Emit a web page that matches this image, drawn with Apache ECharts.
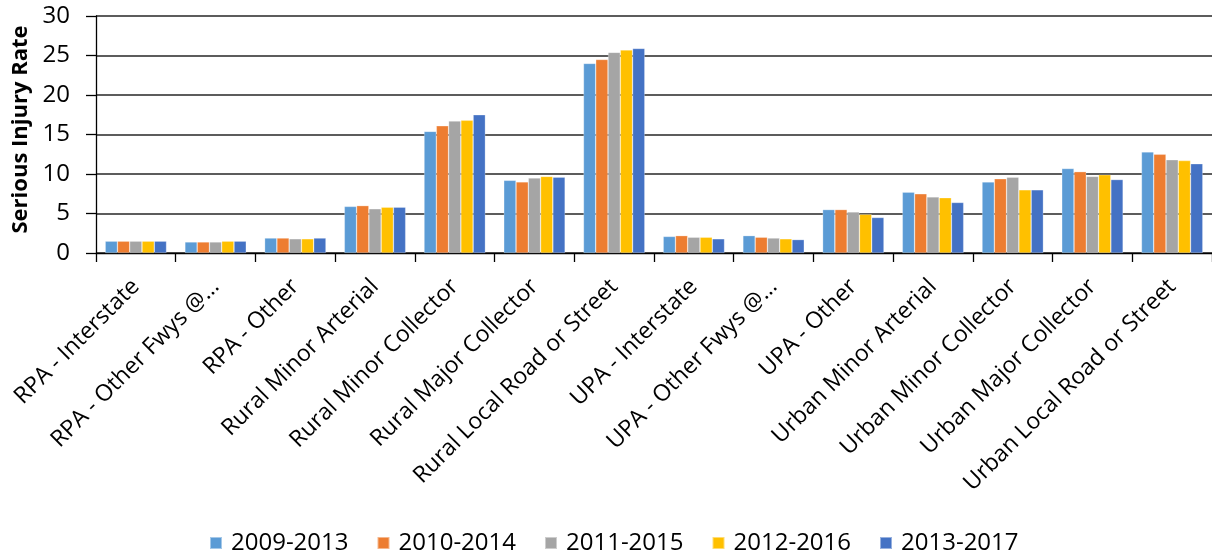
<!DOCTYPE html>
<html>
<head>
<meta charset="utf-8">
<script src="https://cdn.jsdelivr.net/npm/echarts@6/dist/echarts.min.js"></script>
<style>
  html, body { margin: 0; padding: 0; background: #fff; }
  #chart { width: 1212px; height: 557px; }
</style>
</head>
<body>
<div id="chart"></div>
<script>
// 类别
var categories = [
    'RPA - Interstate', 'RPA - Other Fwys @…', 'RPA - Other', 'Rural Minor Arterial',
    'Rural Minor Collector', 'Rural Major Collector', 'Rural Local Road or Street',
    'UPA - Interstate', 'UPA - Other Fwys @…', 'UPA - Other', 'Urban Minor Arterial',
    'Urban Minor Collector', 'Urban Major Collector', 'Urban Local Road or Street'
];

// 各时间段数值
var s2009_2013 = [1.5, 1.4, 1.9, 5.9, 15.4, 9.2, 24.0, 2.1, 2.2, 5.5, 7.7, 9.0, 10.7, 12.8];
var s2010_2014 = [1.5, 1.4, 1.9, 6.0, 16.1, 9.0, 24.5, 2.2, 2.0, 5.5, 7.5, 9.4, 10.3, 12.5];
var s2011_2015 = [1.5, 1.4, 1.8, 5.6, 16.7, 9.5, 25.4, 2.0, 1.9, 5.2, 7.1, 9.6, 9.7, 11.8];
var s2012_2016 = [1.5, 1.5, 1.8, 5.8, 16.8, 9.7, 25.7, 2.0, 1.8, 4.9, 7.0, 8.0, 9.9, 11.7];
var s2013_2017 = [1.5, 1.5, 1.9, 5.8, 17.5, 9.6, 25.9, 1.8, 1.7, 4.5, 6.4, 8.0, 9.3, 11.3];

var seriesNames = ['2009-2013', '2010-2014', '2011-2015', '2012-2016', '2013-2017'];
var seriesValues = [s2009_2013, s2010_2014, s2011_2015, s2012_2016, s2013_2017];
var colors = ['#5B9BD5', '#ED7D31', '#A5A5A5', '#FFC000', '#4472C4'];

var yTicks = { min: 0, max: 30, interval: 5 };

var font = 'Open Sans';

var myChart = echarts.init(document.getElementById('chart'));

var series = seriesNames.map(function(name, i) {
    return {
        name: name,
        type: 'bar',
        data: seriesValues[i],
        barGap: '0%',
        barCategoryGap: '23%',
        itemStyle: { color: colors[i], borderColor: 'rgba(255,255,255,0.45)', borderWidth: 0.6 }
    };
});

var option = {
    animation: false,
    color: colors,
    grid: { left: 96, top: 16, right: -9, bottom: 304 },
    legend: {
        data: seriesNames,
        left: 204,
        top: 526,
        itemWidth: 12,
        itemHeight: 12,
        itemGap: 28,
        icon: 'rect',
        textStyle: { fontFamily: font, fontSize: 24, color: '#000', padding: [0, 0, 0, 4] }
    },
    xAxis: {
        type: 'category',
        data: categories,
        axisLine: { show: true, lineStyle: { color: '#000', width: 1.3 } },
        axisTick: { show: true, alignWithLabel: false, length: 9, lineStyle: { color: '#000', width: 1.3 } },
        axisLabel: {
            rotate: 45,
            interval: 0,
            margin: 30,
            fontFamily: font,
            fontSize: 23,
            color: '#000'
        }
    },
    yAxis: {
        type: 'value',
        min: yTicks.min,
        max: yTicks.max,
        interval: yTicks.interval,
        name: 'Serious Injury Rate',
        nameLocation: 'middle',
        nameRotate: 90,
        nameGap: 64,
        nameTextStyle: { fontFamily: font, fontSize: 22, fontWeight: 'bold', color: '#000', padding: [0, 0, 0, 10] },
        axisLine: { show: true, lineStyle: { color: '#000', width: 1.3 } },
        axisTick: { show: true, length: 10, lineStyle: { color: '#000', width: 1.3 } },
        axisLabel: { margin: 26, fontFamily: font, fontSize: 24, color: '#000' },
        splitLine: { show: true, lineStyle: { color: '#262626', width: 1.5 } }
    },
    series: series
};

myChart.setOption(option);
</script>
</body>
</html>
